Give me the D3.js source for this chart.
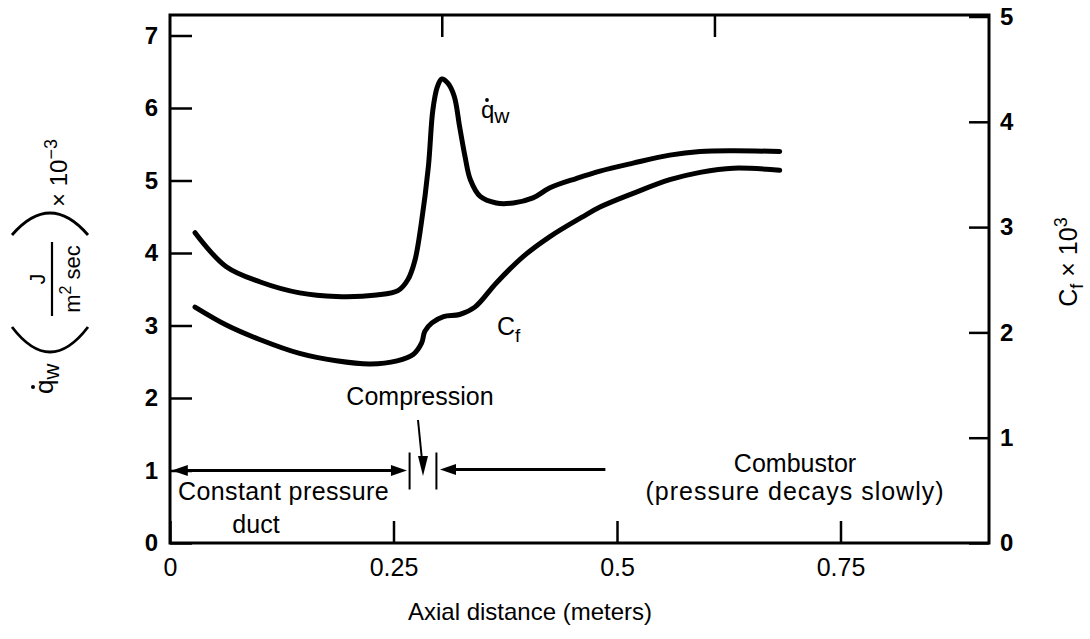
<!DOCTYPE html>
<html><head><meta charset="utf-8">
<script src="https://cdn.jsdelivr.net/npm/d3@7"></script>
<style>
html,body{margin:0;padding:0;background:#fff;}
svg text{font-family:"Liberation Sans",Arial,sans-serif;fill:#000;}
</style></head>
<body><svg id="c" width="1090" height="639"></svg>
<script>
// ---- data ----
const qwX   = [0.028,0.063,0.101,0.145,0.186,0.231,0.255,0.266,0.274,0.281,0.289,0.294,0.299,0.304,0.311,0.318,0.324,0.330,0.336,0.347,0.365,0.384,0.406,0.425,0.455,0.481,0.518,0.559,0.593,0.630,0.682];
const qwVals= [4.28,3.81,3.60,3.45,3.40,3.42,3.48,3.63,3.90,4.40,5.19,5.97,6.29,6.40,6.34,6.16,5.74,5.33,5.01,4.78,4.69,4.69,4.76,4.90,5.03,5.13,5.24,5.35,5.40,5.41,5.40];
const cfX   = [0.028,0.063,0.101,0.145,0.186,0.224,0.254,0.272,0.2815,0.285,0.293,0.306,0.324,0.341,0.365,0.395,0.425,0.462,0.481,0.518,0.559,0.593,0.630,0.682];
const cfVals= [2.24,2.07,1.93,1.80,1.73,1.70,1.73,1.79,1.90,2.01,2.09,2.15,2.17,2.24,2.47,2.72,2.91,3.10,3.19,3.32,3.45,3.52,3.56,3.54];
const xTickVals   = [0,0.25,0.5,0.75];
const xTickLabels = ["0","0.25","0.5","0.75"];
const topTickVals = [0.304,0.609];
const leftTickVals  = [0,1,2,3,4,5,6,7];
const rightTickVals = [0,1,2,3,4,5];
// annotation values (data units)
const ductStart = 0.002, ductEnd = 0.265, compLeft = 0.268, compRight = 0.298, combStart = 0.302, combEnd = 0.487;
const arrowLevel = 1.0;

// ---- layout ----
const L = 170, R = 989, T = 15, B = 543;
const svg = d3.select("#c");
const x  = d3.scaleLinear().domain([0, (R-L)/894]).range([L, R]);
const yL = d3.scaleLinear().domain([0, (B-T)/72.5]).range([B, T]);
const yR = d3.scaleLinear().domain([0, 5]).range([B, 16.5]);

// frame
svg.append("rect").attr("x",L).attr("y",T).attr("width",R-L).attr("height",B-T)
  .attr("fill","none").attr("stroke","#000").attr("stroke-width",3);

function styleAxis(bold, size){
  return g => {
    g.select(".domain").remove();
    g.selectAll(".tick line").attr("stroke","#000").attr("stroke-width",2.5);
    g.selectAll(".tick text").style("font-size",size+"px").style("font-weight",bold?"bold":"normal").attr("fill","#000");
  };
}
svg.append("g").attr("transform",`translate(${L},0)`)
  .call(d3.axisLeft(yL).tickValues(leftTickVals).tickSize(-22).tickPadding(12).tickFormat(d3.format("d")))
  .call(styleAxis(true,24));
svg.append("g").attr("transform",`translate(${R},0)`)
  .call(d3.axisRight(yR).tickValues(rightTickVals).tickSize(-20).tickPadding(11).tickFormat(d3.format("d")))
  .call(styleAxis(true,24));
svg.append("g").attr("transform",`translate(0,${B})`)
  .call(d3.axisBottom(x).tickValues(xTickVals).tickSize(-22).tickPadding(15).tickFormat((d,i)=>xTickLabels[i]))
  .call(styleAxis(false,25));
svg.append("g").attr("transform",`translate(0,${T})`)
  .call(d3.axisTop(x).tickValues(topTickVals).tickSize(-22).tickFormat(""))
  .call(styleAxis(false,24));

// curves
const qwLine = d3.line().x((d,i)=>x(qwX[i])).y(d=>yL(d)).curve(d3.curveCatmullRom.alpha(0.5));
const cfLine = d3.line().x((d,i)=>x(cfX[i])).y(d=>yR(d)).curve(d3.curveCatmullRom.alpha(0.5));
svg.append("path").attr("d",qwLine(qwVals)).attr("fill","none").attr("stroke","#000").attr("stroke-width",5).attr("stroke-linecap","round");
svg.append("path").attr("d",cfLine(cfVals)).attr("fill","none").attr("stroke","#000").attr("stroke-width",5).attr("stroke-linecap","round");

// curve labels
const ql = svg.append("text").attr("x",481).attr("y",118).style("font-size","24px").text("q");
ql.append("tspan").attr("dy",5).style("font-size","21px").text("w");
svg.append("circle").attr("cx",487).attr("cy",100).attr("r",1.9).attr("fill","#000");
const cl = svg.append("text").attr("x",497).attr("y",335).style("font-size","25px").text("C");
cl.append("tspan").attr("dy",7).style("font-size","19px").text("f");

// arrows
function arrowHead(xTip, yTip, dir){
  let p;
  if(dir==='r') p=[[xTip,yTip],[xTip-16,yTip-5.5],[xTip-16,yTip+5.5]];
  if(dir==='l') p=[[xTip,yTip],[xTip+16,yTip-5.5],[xTip+16,yTip+5.5]];
  if(dir==='d') p=[[xTip,yTip],[xTip-5,yTip-20],[xTip+5,yTip-20]];
  svg.append("path").attr("d","M"+p.map(q=>q.join(",")).join("L")+"Z").attr("fill","#000");
}
const ya = yL(arrowLevel);
svg.append("line").attr("x1",x(ductStart)+10).attr("x2",x(ductEnd)-10).attr("y1",ya).attr("y2",ya).attr("stroke","#000").attr("stroke-width",3);
arrowHead(x(ductStart), ya, 'l');
arrowHead(x(ductEnd), ya, 'r');
svg.append("line").attr("x1",x(combStart)+10).attr("x2",x(combEnd)).attr("y1",ya-1).attr("y2",ya-1).attr("stroke","#000").attr("stroke-width",3);
arrowHead(x(combStart), ya-1, 'l');
[compLeft, compRight].forEach(v=>{
  svg.append("line").attr("x1",x(v)).attr("x2",x(v)).attr("y1",ya-18).attr("y2",ya+19).attr("stroke","#000").attr("stroke-width",2);
});
svg.append("line").attr("x1",418).attr("y1",420).attr("x2",422).attr("y2",460).attr("stroke","#000").attr("stroke-width",2);
arrowHead(423, 476, 'd');

// annotation texts
svg.append("text").attr("x",420).attr("y",405).attr("text-anchor","middle").style("font-size","25px").text("Compression");
svg.append("text").attr("x",178).attr("y",500).style("font-size","25px").style("letter-spacing","0.4px").text("Constant pressure");
svg.append("text").attr("x",256).attr("y",533).attr("text-anchor","middle").style("font-size","25px").text("duct");
svg.append("text").attr("x",795).attr("y",472).attr("text-anchor","middle").style("font-size","25px").text("Combustor");
svg.append("text").attr("x",795).attr("y",500).attr("text-anchor","middle").style("font-size","25px").style("letter-spacing","1px").text("(pressure decays slowly)");

// axis titles
svg.append("text").attr("x",530).attr("y",620).attr("text-anchor","middle").style("font-size","24px").text("Axial distance (meters)");

const rt = svg.append("g").attr("transform","translate(1077,262) rotate(-90)");
const rtt = rt.append("text").attr("text-anchor","middle").style("font-size","25px").text("C");
rtt.append("tspan").attr("dy",6).style("font-size","18px").text("f");
rtt.append("tspan").attr("dy",-6).text(" × 10");
rtt.append("tspan").attr("dy",-10).style("font-size","18px").text("3");

const lt = svg.append("g").attr("transform","translate(52,280) rotate(-90)");
const qt = lt.append("text").attr("x",-114).attr("y",1).style("font-size","26px").text("q");
qt.append("tspan").attr("dy",6).style("font-size","22px").text("w");
lt.append("circle").attr("cx",-107).attr("cy",-19).attr("r",2).attr("fill","#000");
lt.append("path").attr("d","M-47,-40 Q-97,-2 -47,36").attr("fill","none").attr("stroke","#000").attr("stroke-width",2.8);
lt.append("path").attr("d","M45,-40 Q89,-2 45,36").attr("fill","none").attr("stroke","#000").attr("stroke-width",2.8);
lt.append("line").attr("x1",-36).attr("x2",38).attr("y1",0).attr("y2",0).attr("stroke","#000").attr("stroke-width",2.2);
lt.append("text").attr("x",1).attr("y",-7).attr("text-anchor","middle").style("font-size","22px").text("J");
const mt = lt.append("text").attr("x",1).attr("y",28).attr("text-anchor","middle").style("font-size","22px").text("m");
mt.append("tspan").attr("dy",-9).style("font-size","16px").text("2");
mt.append("tspan").attr("dy",9).text(" sec");
const xt = lt.append("text").attr("x",73).attr("y",15).style("font-size","24px").text("× 10");
xt.append("tspan").attr("dy",-10).style("font-size","18px").text("−3");
</script></body></html>
